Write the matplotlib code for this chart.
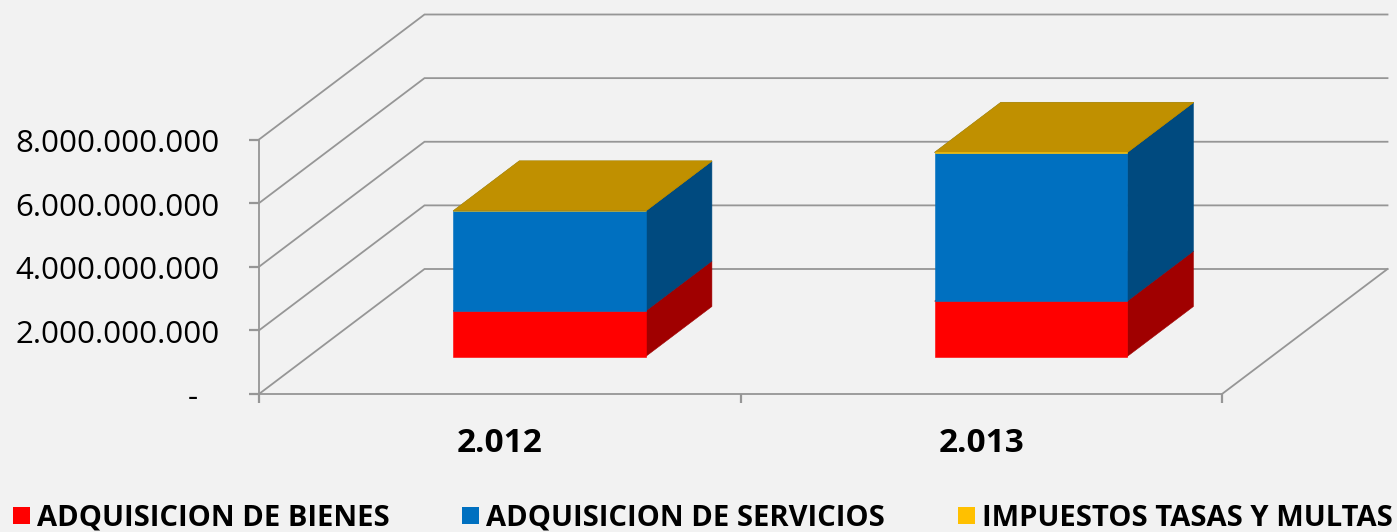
#!/usr/bin/env python

import matplotlib
matplotlib.use("Agg")
import matplotlib.pyplot as plt
from matplotlib.patches import Patch, Polygon
from matplotlib.transforms import ScaledTranslation

# data
years = ['2.012', '2.013']
bienes = [1.43e9, 1.74e9]
servicios = [3.14e9, 4.67e9]
impuestos = [0.01e9, 0.01e9]
series_names = ['ADQUISICION DE BIENES', 'ADQUISICION DE SERVICIOS',
                'IMPUESTOS TASAS Y MULTAS']
y_ticks = [0, 2e9, 4e9, 6e9, 8e9]
y_labels = ['-\u00a0\u00a0\u2009', '2.000.000.000', '4.000.000.000', '6.000.000.000',
            '8.000.000.000']

front_colors = ['#ff0000', '#0070c0', '#ffc000']
side_colors = ['#a00000', '#004a7f', '#a67c00']
top_colors = ['#c00000', '#00599a', '#c09000']

BG = '#f2f2f2'
GRID = '#969696'

# pixel layout of the original plot
W, H = 1397, 532
X0, Y0 = 259, 394
PX_PER_CAT = 481.5
PX_PER_VAL = 254.5 / 8e9

# how far the back wall is shifted from the front, in data units
DEPTH_X = 165.5 / PX_PER_CAT
DEPTH_Y = 125 / PX_PER_VAL


def project(x, y, d):
    return x + d * DEPTH_X, y + d * DEPTH_Y


def draw_box(ax, x0, x1, d0, d1, y0, y1, i):
    front = [project(x0, y0, d0), project(x1, y0, d0),
             project(x1, y1, d0), project(x0, y1, d0)]
    side = [project(x1, y0, d0), project(x1, y0, d1),
            project(x1, y1, d1), project(x1, y1, d0)]
    top = [project(x0, y1, d0), project(x1, y1, d0),
           project(x1, y1, d1), project(x0, y1, d1)]
    for pts, color in ((side, side_colors[i]), (top, top_colors[i]),
                       (front, front_colors[i])):
        ax.add_patch(Polygon(pts, closed=True, facecolor=color, edgecolor=color,
                             linewidth=0.4, zorder=3))


def draw_walls(ax, n_cat):
    for val in y_ticks:
        xs, ys = zip(project(0, val, 0), project(0, val, 1), project(n_cat, val, 1))
        ax.plot(xs, ys, color=GRID, linewidth=1.3, zorder=1, solid_joinstyle='miter')
    xs, ys = zip(project(n_cat, 0, 0), project(n_cat, 0, 1))
    ax.plot(xs, ys, color=GRID, linewidth=1.3, zorder=1)


def main():
    plt.rcParams['font.family'] = ['Open Sans', 'DejaVu Sans']

    fig = plt.figure(figsize=(W / 100, H / 100), dpi=100, facecolor=BG)
    ax = fig.add_axes([0, 0, 1, 1], facecolor=BG)
    ax.set_xlim(-X0 / PX_PER_CAT, (W - X0) / PX_PER_CAT)
    ax.set_ylim(-(H - Y0) / PX_PER_VAL, Y0 / PX_PER_VAL)

    draw_walls(ax, len(years))

    for ix in range(len(years)):
        bottom = 0
        for s, vals in enumerate((bienes, servicios, impuestos)):
            draw_box(ax, ix + 0.3, ix + 0.7, 0.3, 0.7, bottom, bottom + vals[ix], s)
            bottom += vals[ix]

    for side in ('top', 'right'):
        ax.spines[side].set_visible(False)
    ax.spines['left'].set_position(('data', 0))
    ax.spines['left'].set_bounds(0, 8e9)
    ax.spines['bottom'].set_position(('data', 0))
    ax.spines['bottom'].set_bounds(0, len(years))
    for side in ('left', 'bottom'):
        ax.spines[side].set_color(GRID)
        ax.spines[side].set_linewidth(1.3)

    ax.set_yticks(y_ticks, y_labels)
    ax.tick_params(axis='y', direction='out', length=7.2, width=1.6, color=GRID,
                   pad=22, labelsize=22.5, labelcolor='black')
    ax.set_xticks(range(len(years) + 1), [''] * (len(years) + 1))
    ax.tick_params(axis='x', direction='out', length=6.5, width=1.6, color=GRID)
    ax.set_xticks([i + 0.5 for i in range(len(years))], years, minor=True)
    ax.tick_params(axis='x', which='minor', length=0, pad=23.5, labelsize=24)
    for label in ax.get_xticklabels(minor=True):
        label.set_fontweight('bold')

    # y labels sit a little lower and further right than the default
    nudge = ScaledTranslation(1 / 100, -1 / 100, fig.dpi_scale_trans)
    for label in ax.get_yticklabels():
        label.set_transform(label.get_transform() + nudge)

    # the Q descender must stay inside the picture
    handles = [Patch(facecolor=c, edgecolor='none') for c in front_colors]
    ax.legend(handles, series_names, ncol=3, loc='lower left',
              bbox_to_anchor=(13 / W, -1 / H), frameon=False,
              borderpad=0, borderaxespad=0,
              prop={'size': 21, 'weight': 'bold'},
              handlelength=0.58, handleheight=0.515, handletextpad=0.24,
              columnspacing=2.5)

    fig.savefig('out.png', dpi=100, facecolor=BG)


if __name__ == "__main__":
    main()
